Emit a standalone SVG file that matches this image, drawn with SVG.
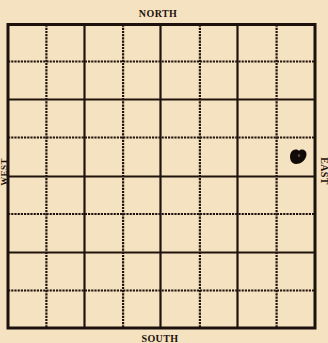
<svg xmlns="http://www.w3.org/2000/svg" width="328" height="343" viewBox="0 0 328 343">
<style>
.bg{fill:#f5e2c1}
.frame{fill:none;stroke:#1c110c;stroke-width:3}
.solid{stroke:#1f130d;stroke-width:2.2;fill:none}
.dash{stroke:#1f130d;stroke-width:2.2;stroke-dasharray:2.2 1;fill:none}
.lbl{font-family:"Liberation Serif","DejaVu Serif",serif;font-weight:bold;font-size:10px;fill:#1c110c;text-anchor:middle;letter-spacing:0.4px}
</style>
<rect class="bg" x="0" y="0" width="328" height="343"/>
<g id="grid">
<g id="dashed-lines">
<line class="dash" x1="46.4" y1="24.5" x2="46.4" y2="328"/>
<line class="dash" x1="123.1" y1="24.5" x2="123.1" y2="328"/>
<line class="dash" x1="199.9" y1="24.5" x2="199.9" y2="328"/>
<line class="dash" x1="276.6" y1="24.5" x2="276.6" y2="328"/>
<line class="dash" x1="8" y1="61.5" x2="315" y2="61.5"/>
<line class="dash" x1="8" y1="137.5" x2="315" y2="137.5"/>
<line class="dash" x1="8" y1="214" x2="315" y2="214"/>
<line class="dash" x1="8" y1="290.5" x2="315" y2="290.5"/>
</g>
<g id="solid-lines">
<line class="solid" x1="84.5" y1="24.5" x2="84.5" y2="328"/>
<line class="solid" x1="160.5" y1="24.5" x2="160.5" y2="328"/>
<line class="solid" x1="237.5" y1="24.5" x2="237.5" y2="328"/>
<line class="solid" x1="8" y1="99.5" x2="315" y2="99.5"/>
<line class="solid" x1="8" y1="176.5" x2="315" y2="176.5"/>
<line class="solid" x1="8" y1="252.5" x2="315" y2="252.5"/>
</g>
<rect class="frame" x="8" y="24.5" width="307" height="303.5"/>
</g>
<g id="marker">
<path d="M290.5 153.5 C292 149.2 296.8 148.6 299 150.8 C301.2 148.2 306.5 149.4 306.5 154 C306.5 159.3 301.7 164 296 164 C291.2 164 289 158.7 290.5 153.5 Z" fill="#120a08"/>
<ellipse cx="299" cy="155.5" rx="1.2" ry="1.6" fill="#5a4a40"/>
</g>
<g id="labels">
<text class="lbl" x="158" y="17">NORTH</text>
<text class="lbl" x="160" y="341.5">SOUTH</text>
<text class="lbl" transform="translate(320.5 171) rotate(90)" x="0" y="0">EAST</text>
<text class="lbl" style="font-size:9px" transform="translate(6.6 172) rotate(-90)" x="0" y="0">WEST</text>
</g>
</svg>
